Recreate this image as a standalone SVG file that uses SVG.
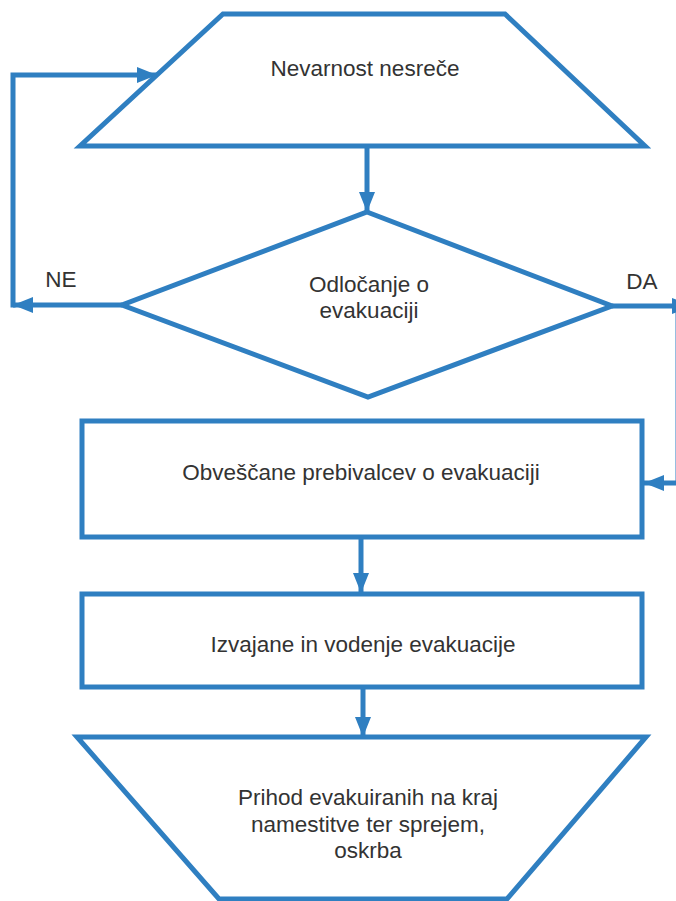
<svg xmlns="http://www.w3.org/2000/svg" width="676" height="901" viewBox="0 0 676 901">
<style>
.shape{fill:#fff;stroke:#2f7fc1;stroke-width:5;stroke-linejoin:miter}
.con{fill:none;stroke:#2f7fc1;stroke-width:5}
.lbl{font-family:"Liberation Sans",Arial,sans-serif;font-size:22.5px;fill:#333;text-anchor:middle}
</style>
<defs>
<marker id="ah" viewBox="0 0 20 16" refX="20" refY="8" markerWidth="20" markerHeight="16" markerUnits="userSpaceOnUse" orient="auto">
<path d="M0,0 L20,8 L0,16 Z" fill="#2f7fc1"/>
</marker>
</defs>
<rect width="676" height="901" fill="#fff"/>
<g id="connectors">
<line class="con" x1="367" y1="146" x2="367" y2="212" marker-end="url(#ah)"/>
<line class="con" x1="122" y1="305" x2="13" y2="305" marker-end="url(#ah)"/>
<path class="con" d="M13,307.5 V75 H157" marker-end="url(#ah)"/>
<line class="con" x1="612" y1="306" x2="692" y2="306" marker-end="url(#ah)"/>
<line class="con" x1="678" y1="306" x2="678" y2="483"/>
<line class="con" x1="680" y1="483" x2="644" y2="483" marker-end="url(#ah)"/>
<line class="con" x1="361" y1="537" x2="361" y2="593" marker-end="url(#ah)"/>
<line class="con" x1="363" y1="687" x2="363" y2="737" marker-end="url(#ah)"/>
</g>
<g id="n1">
<polygon class="shape" points="223,14 505,14 645,146 80,146"/>
<text class="lbl" x="365" y="76">Nevarnost nesreče</text>
</g>
<g id="n2">
<polygon class="shape" points="367,212 612,306 368,397 122,305"/>
<text class="lbl" x="369" y="292">Odločanje o</text>
<text class="lbl" x="369" y="318">evakuaciji</text>
</g>
<g id="lblNE"><text class="lbl" x="61" y="287">NE</text></g>
<g id="lblDA"><text class="lbl" x="642" y="289">DA</text></g>
<g id="n3">
<rect class="shape" x="82" y="421" width="560" height="116"/>
<text class="lbl" x="361" y="480">Obveščane prebivalcev o evakuaciji</text>
</g>
<g id="n4">
<rect class="shape" x="82" y="594" width="560" height="93"/>
<text class="lbl" x="363" y="652">Izvajane in vodenje evakuacije</text>
</g>
<g id="n5">
<polygon class="shape" points="77,737 646,737 507,899 219,899"/>
<text class="lbl" x="368" y="805">Prihod evakuiranih na kraj</text>
<text class="lbl" x="368" y="832">namestitve ter sprejem,</text>
<text class="lbl" x="368" y="858">oskrba</text>
</g>
</svg>
